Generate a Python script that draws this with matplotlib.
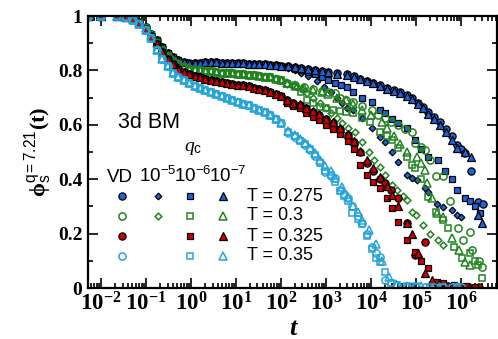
import numpy as np
import matplotlib
matplotlib.use("Agg")
import matplotlib.pyplot as plt
from matplotlib.ticker import LogLocator, FixedLocator, NullFormatter, FuncFormatter

# =========================
# settings
# =========================
plt.rcParams["mathtext.fontset"] = "custom"
plt.rcParams["mathtext.rm"] = "Liberation Serif"
plt.rcParams["mathtext.it"] = "Liberation Serif:italic"
plt.rcParams["mathtext.bf"] = "Liberation Serif:bold"
plt.rcParams["mathtext.sf"] = "Liberation Sans"

C_BLUE = "#1a64dc"
C_GREEN = "#218421"
C_RED = "#cc0000"
C_LBLUE = "#27a4d8"

# =========================
# data (log10 t, phi)
# =========================
temps = ["0.275", "0.3", "0.325", "0.35"]
variants = ["VD", "1e-5", "1e-6", "1e-7"]

# short-time part, common to all runs at a given T
lt_short = [-2.3, -2.0, -1.65, -1.45, -1.3, -1.15, -1.0, -0.88, -0.76, -0.64, -0.52,
            -0.4, -0.28, -0.16, -0.04, 0.08, 0.2, 0.32, 0.44, 0.56, 0.68, 0.8, 0.92,
            1.04, 1.16, 1.28, 1.4, 1.52, 1.64, 1.76, 1.88, 2.0]
phi_short_275 = [1.0, 1.0, 1.0, 0.997, 0.99, 0.978, 0.958, 0.935, 0.91, 0.885, 0.864,
                 0.848, 0.838, 0.832, 0.829, 0.828, 0.829, 0.83, 0.831, 0.83, 0.829, 0.828, 0.827,
                 0.826, 0.826, 0.825, 0.824, 0.823, 0.822, 0.821, 0.82, 0.818]
phi_short_300 = [1.0, 1.0, 1.0, 0.997, 0.99, 0.976, 0.955, 0.93, 0.902, 0.876, 0.853,
                 0.835, 0.822, 0.812, 0.806, 0.802, 0.8, 0.798, 0.796, 0.794, 0.792, 0.79, 0.789,
                 0.788, 0.786, 0.784, 0.782, 0.78, 0.777, 0.774, 0.77, 0.765]
phi_short_325 = [1.0, 1.0, 1.0, 0.996, 0.989, 0.975, 0.953, 0.926, 0.897, 0.868, 0.843,
                 0.822, 0.806, 0.794, 0.785, 0.779, 0.774, 0.769, 0.765, 0.761, 0.757, 0.754, 0.751,
                 0.748, 0.745, 0.741, 0.737, 0.732, 0.727, 0.72, 0.713, 0.705]
phi_short_350 = [1.0, 1.0, 0.999, 0.995, 0.987, 0.972, 0.948, 0.918, 0.875, 0.843, 0.815,
                 0.792, 0.776, 0.763, 0.752, 0.742, 0.734, 0.727, 0.72, 0.713, 0.706, 0.699, 0.692,
                 0.685, 0.678, 0.671, 0.663, 0.655, 0.646, 0.635, 0.622, 0.607]

# T = 0.275 long-time tails
lt_275_vd = [2.15, 2.3, 2.45, 2.6, 2.75, 2.9, 3.05, 3.24, 3.47, 3.62, 3.76, 3.9, 4.05, 4.2,
             4.35, 4.5, 4.65, 4.8, 4.91, 5.05, 5.15, 5.27, 5.4, 5.53, 5.67, 5.8, 5.91, 6.0,
             6.09, 6.22, 6.38, 6.49]
phi_275_vd = [0.815, 0.812, 0.81, 0.806, 0.802, 0.798, 0.794, 0.79, 0.785, 0.778, 0.77, 0.762,
              0.754, 0.745, 0.736, 0.728, 0.72, 0.71, 0.70, 0.68, 0.665, 0.647, 0.63, 0.61,
              0.585, 0.56, 0.525, 0.51, 0.495, 0.43, 0.316, 0.31]
lt_275_q5 = [2.15, 2.3, 2.45, 2.6, 2.8, 2.95, 3.1, 3.25, 3.35, 3.47, 3.6, 3.8, 4.02, 4.2,
             4.31, 4.47, 4.6, 4.8, 4.91, 5.02, 5.2, 5.27, 5.47, 5.6, 5.8, 5.91, 6.0]
phi_275_q5 = [0.81, 0.80, 0.79, 0.778, 0.76, 0.74, 0.72, 0.70, 0.68, 0.66, 0.655, 0.625, 0.59,
              0.555, 0.535, 0.50, 0.463, 0.415, 0.404, 0.397, 0.367, 0.353, 0.31, 0.298,
              0.287, 0.268, 0.26]
lt_275_q6 = [2.15, 2.3, 2.45, 2.6, 2.75, 2.9, 3.05, 3.2, 3.34, 3.47, 3.6, 3.8, 4.02, 4.2,
             4.31, 4.47, 4.6, 4.8, 4.98, 5.1, 5.27, 5.49, 5.65, 5.8, 5.91, 6.09, 6.2, 6.3, 6.42]
phi_275_q6 = [0.812, 0.806, 0.80, 0.793, 0.785, 0.776, 0.766, 0.755, 0.745, 0.74, 0.72, 0.70,
              0.685, 0.655, 0.643, 0.62, 0.605, 0.59, 0.545, 0.51, 0.48, 0.47, 0.43, 0.40,
              0.36, 0.33, 0.32, 0.30, 0.275]
lt_275_q7 = [2.15, 2.3, 2.45, 2.6, 2.75, 2.9, 3.05, 3.24, 3.47, 3.62, 3.76, 3.9, 4.05, 4.2,
             4.35, 4.5, 4.65, 4.8, 4.91, 5.05, 5.15, 5.27, 5.4, 5.53, 5.67, 5.8, 5.91, 6.09,
             6.22, 6.38, 6.47]
phi_275_q7 = [0.816, 0.813, 0.81, 0.805, 0.80, 0.797, 0.793, 0.788, 0.783, 0.776, 0.768, 0.76,
              0.752, 0.742, 0.733, 0.724, 0.716, 0.706, 0.695, 0.675, 0.66, 0.64, 0.622, 0.60,
              0.575, 0.545, 0.515, 0.50, 0.48, 0.27, 0.24]

# T = 0.3 long-time tails
lt_300_vd = [2.13, 2.3, 2.5, 2.7, 2.9, 3.05, 3.2, 3.31, 3.45, 3.6, 3.8, 4.02, 4.16, 4.3, 4.45,
             4.6, 4.75, 4.91, 4.98, 5.1, 5.2, 5.32, 5.45, 5.6, 5.75, 5.93, 6.05, 6.2, 6.25,
             6.4, 6.47]
phi_300_vd = [0.755, 0.748, 0.74, 0.73, 0.725, 0.72, 0.717, 0.70, 0.69, 0.685, 0.67, 0.655,
              0.636, 0.625, 0.61, 0.60, 0.585, 0.574, 0.533, 0.52, 0.507, 0.47, 0.41, 0.41,
              0.32, 0.22, 0.176, 0.206, 0.14, 0.10, 0.077]
lt_300_q5 = [2.13, 2.25, 2.36, 2.47, 2.58, 2.72, 2.87, 3.0, 3.1, 3.24, 3.36, 3.49, 3.64, 3.8,
             3.95, 4.07, 4.2, 4.31, 4.47, 4.58, 4.7, 4.8, 4.91, 5.0, 5.15, 5.31, 5.49, 5.6]
phi_300_q5 = [0.75, 0.745, 0.74, 0.73, 0.717, 0.70, 0.68, 0.66, 0.645, 0.625, 0.605, 0.59,
              0.574, 0.537, 0.50, 0.47, 0.445, 0.415, 0.38, 0.36, 0.34, 0.324, 0.28, 0.268,
              0.23, 0.20, 0.176, 0.158]
lt_300_q6 = [2.13, 2.3, 2.45, 2.58, 2.72, 2.87, 3.0, 3.15, 3.3, 3.45, 3.6, 3.8, 3.98, 4.2,
             4.35, 4.47, 4.6, 4.8, 4.91, 4.98, 5.1, 5.27, 5.45, 5.6, 5.71, 5.85, 6.02, 6.2,
             6.3, 6.38, 6.47]
phi_300_q6 = [0.75, 0.74, 0.72, 0.69, 0.68, 0.665, 0.66, 0.655, 0.65, 0.648, 0.643, 0.625,
              0.61, 0.574, 0.56, 0.544, 0.515, 0.48, 0.452, 0.44, 0.40, 0.335, 0.28, 0.25,
              0.22, 0.15, 0.11, 0.13, 0.10, 0.085, 0.037]
lt_300_q7 = [2.13, 2.3, 2.5, 2.7, 2.9, 3.05, 3.25, 3.45, 3.6, 3.8, 4.0, 4.24, 4.35, 4.5,
             4.65, 4.8, 5.02, 5.1, 5.2, 5.24, 5.35, 5.47, 5.6, 5.8, 5.95, 6.09, 6.2]
phi_300_q7 = [0.752, 0.745, 0.737, 0.728, 0.72, 0.712, 0.70, 0.69, 0.675, 0.655, 0.635, 0.61,
              0.59, 0.56, 0.53, 0.50, 0.48, 0.46, 0.434, 0.386, 0.33, 0.275, 0.26, 0.184,
              0.14, 0.096, 0.085]

# T = 0.325 long-time tails (no 1e-5 run)
lt_325_vd = [2.13, 2.27, 2.42, 2.56, 2.7, 2.85, 3.0, 3.16, 3.3, 3.49, 3.62, 3.76, 3.9, 4.05,
             4.2, 4.31, 4.45, 4.6, 4.8, 4.98, 5.2, 5.47, 5.7, 6.0, 6.4]
phi_325_vd = [0.69, 0.68, 0.673, 0.66, 0.647, 0.635, 0.62, 0.607, 0.585, 0.563, 0.535, 0.50,
              0.46, 0.43, 0.40, 0.386, 0.36, 0.33, 0.24, 0.12, 0.17, 0.02, 0.008, 0.005, 0.004]
lt_325_q6 = [2.13, 2.27, 2.42, 2.56, 2.7, 2.85, 3.0, 3.16, 3.3, 3.49, 3.62, 3.76, 3.91, 4.05,
             4.2, 4.35, 4.47, 4.6, 4.8, 4.98, 5.1, 5.27, 5.47, 5.6, 5.85, 6.1, 6.3]
phi_325_q6 = [0.682, 0.67, 0.66, 0.645, 0.63, 0.617, 0.60, 0.585, 0.565, 0.54, 0.51, 0.452,
              0.415, 0.39, 0.367, 0.33, 0.294, 0.243, 0.176, 0.132, 0.10, 0.073, 0.022, 0.018,
              0.01, 0.006, 0.005]
lt_325_q7 = [2.13, 2.27, 2.42, 2.56, 2.7, 2.85, 3.0, 3.16, 3.3, 3.49, 3.62, 3.76, 3.9, 4.05,
             4.2, 4.35, 4.47, 4.6, 4.8, 4.91, 5.05, 5.2, 5.35, 5.5, 5.8, 6.2]
phi_325_q7 = [0.692, 0.682, 0.675, 0.663, 0.65, 0.638, 0.622, 0.61, 0.59, 0.565, 0.54, 0.505,
              0.47, 0.44, 0.408, 0.375, 0.342, 0.30, 0.239, 0.20, 0.13, 0.055, 0.03, 0.015,
              0.008, 0.005]

# T = 0.35 long-time tails (no 1e-5 run)
lt_350_vd = [2.16, 2.3, 2.42, 2.53, 2.64, 2.76, 2.87, 2.98, 3.1, 3.2, 3.31, 3.4, 3.49, 3.58,
             3.7, 3.8, 3.91, 4.02, 4.1, 4.2, 4.31, 4.45, 4.58, 4.8, 5.0, 5.2, 5.4, 5.6, 5.8, 6.0]
phi_350_vd = [0.57, 0.555, 0.544, 0.525, 0.507, 0.485, 0.463, 0.427, 0.41, 0.404, 0.36, 0.345,
              0.33, 0.30, 0.265, 0.24, 0.20, 0.15, 0.13, 0.114, 0.03, 0.02, 0.012, 0.006,
              0.005, 0.004, 0.004, 0.004, 0.004, 0.004]
lt_350_q6 = [2.16, 2.3, 2.42, 2.53, 2.64, 2.76, 2.87, 2.98, 3.1, 3.2, 3.31, 3.4, 3.49, 3.58,
             3.7, 3.8, 3.91, 4.02, 4.1, 4.2, 4.31, 4.45, 4.58, 4.8, 5.0, 5.3, 5.6, 5.9]
phi_350_q6 = [0.575, 0.56, 0.54, 0.53, 0.51, 0.49, 0.46, 0.43, 0.415, 0.39, 0.355, 0.34,
              0.32, 0.275, 0.255, 0.235, 0.19, 0.145, 0.11, 0.095, 0.06, 0.018, 0.012, 0.008,
              0.006, 0.005, 0.005, 0.004]
lt_350_q7 = [2.16, 2.3, 2.42, 2.53, 2.64, 2.76, 2.87, 2.98, 3.1, 3.2, 3.35, 3.49, 3.6, 3.7,
             3.8, 3.95, 4.1, 4.25, 4.4, 4.55, 4.8, 5.1, 5.5, 5.9]
phi_350_q7 = [0.578, 0.562, 0.548, 0.532, 0.514, 0.495, 0.472, 0.45, 0.43, 0.405, 0.37, 0.334,
              0.30, 0.28, 0.25, 0.215, 0.16, 0.10, 0.04, 0.015, 0.008, 0.006, 0.005, 0.004]

# =========================
# style per run
# =========================
marker_of = {"VD": ("o", 5.2), "1e-5": ("D", 3.4), "1e-6": ("s", 4.8), "1e-7": ("^", 5.4)}
# (color, filled)
temp_style = {"0.275": (C_BLUE, True), "0.3": (C_GREEN, False),
              "0.325": (C_RED, True), "0.35": (C_LBLUE, False)}

runs = {
    "0.275": (phi_short_275, {"VD": (lt_275_vd, phi_275_vd), "1e-5": (lt_275_q5, phi_275_q5),
                              "1e-6": (lt_275_q6, phi_275_q6), "1e-7": (lt_275_q7, phi_275_q7)}),
    "0.3": (phi_short_300, {"VD": (lt_300_vd, phi_300_vd), "1e-5": (lt_300_q5, phi_300_q5),
                            "1e-6": (lt_300_q6, phi_300_q6), "1e-7": (lt_300_q7, phi_300_q7)}),
    "0.325": (phi_short_325, {"VD": (lt_325_vd, phi_325_vd), "1e-6": (lt_325_q6, phi_325_q6),
                              "1e-7": (lt_325_q7, phi_325_q7)}),
    "0.35": (phi_short_350, {"VD": (lt_350_vd, phi_350_vd), "1e-6": (lt_350_q6, phi_350_q6),
                             "1e-7": (lt_350_q7, phi_350_q7)}),
}


def mk_kw(T, v):
    color, filled = temp_style[T]
    m, ms = marker_of[v]
    if filled:
        return dict(marker=m, ms=ms, mfc=color, mec="black", mew=0.9, ls="none")
    return dict(marker=m, ms=ms, mfc="none", mec=color, mew=1.1, ls="none")


# =========================
# figure
# =========================
fig = plt.figure(figsize=(4.98, 3.39), dpi=100)
ax = fig.add_axes([0.1767, 0.1504, 0.8213, 0.8024])

for T in temps:
    phi_short, tails = runs[T]
    for v in variants:
        if v not in tails:
            continue
        lt_tail, phi_tail = tails[v]
        t = 10 ** np.array(lt_short + lt_tail)
        phi = np.array(phi_short + phi_tail)
        ax.plot(t, phi, clip_on=True, **mk_kw(T, v))

ax.set_xscale("log")
ax.set_xlim(10 ** -2.29, 10 ** 6.8)
ax.set_ylim(0, 1)

ax.xaxis.set_major_locator(FixedLocator([10.0 ** k for k in range(-2, 7)]))
ax.xaxis.set_minor_locator(LogLocator(base=10, subs=np.arange(2, 10), numticks=30))
ax.xaxis.set_minor_formatter(NullFormatter())
ax.xaxis.set_major_formatter(FuncFormatter(lambda x, p: r"$\mathbf{10^{%d}}$" % round(np.log10(x))))
ax.yaxis.set_major_locator(FixedLocator([0, 0.2, 0.4, 0.6, 0.8, 1.0]))
ax.yaxis.set_minor_locator(FixedLocator([0.1, 0.3, 0.5, 0.7, 0.9]))
ax.yaxis.set_major_formatter(FuncFormatter(lambda y, p: "%g" % y))

ax.tick_params(which="both", direction="in", top=True, right=True, width=1.2)
ax.tick_params(which="major", length=7)
ax.tick_params(which="minor", length=3.5)
ax.tick_params(axis="y", labelsize=14, pad=4)
ax.tick_params(axis="x", labelsize=16.5, pad=3)
for lab in ax.get_yticklabels():
    lab.set_fontfamily("Liberation Serif")
    lab.set_fontweight("bold")
for sp in ax.spines.values():
    sp.set_linewidth(1.6)

ax.set_xlabel("t", fontsize=19, fontfamily="Liberation Serif", fontweight="bold",
              fontstyle="italic", labelpad=1)
ax.set_ylabel(r"$\mathbf{\phi}_{\mathsf{s}}^{\mathsf{q=7.21}}\mathbf{(t)}$", fontsize=16, labelpad=2)

# =========================
# hand-made legend
# =========================
sans = "Liberation Sans"
ax.text(0.073, 0.608, "3d BM", transform=ax.transAxes, fontsize=15.5, fontfamily=sans,
        ha="left", va="center")
ax.text(0.257, 0.515, r"$\mathit{q}_{\mathsf{c}}$", transform=ax.transAxes, fontsize=14,
        ha="center", va="center")
col_x = [0.083, 0.171, 0.249, 0.330]
head_x = [0.078, 0.171, 0.257, 0.342]
heads = ["VD", r"$\mathsf{10^{-5}}$", r"$\mathsf{10^{-6}}$", r"$\mathsf{10^{-7}}$"]
for hx, h in zip(head_x, heads):
    ax.text(hx, 0.391, h, transform=ax.transAxes, fontsize=13.5, fontfamily=sans,
            ha="center", va="baseline")
row_y = [0.338, 0.265, 0.191, 0.118]
for T, ry in zip(temps, row_y):
    _, tails = runs[T]
    for v, cx in zip(variants, col_x):
        if v in tails:
            ax.plot([cx], [ry], transform=ax.transAxes, clip_on=False, **mk_kw(T, v))
    ax.text(0.389, ry, "T = " + T, transform=ax.transAxes, fontsize=13, fontfamily=sans,
            ha="left", va="center")

fig.savefig("out.png", dpi=100)
